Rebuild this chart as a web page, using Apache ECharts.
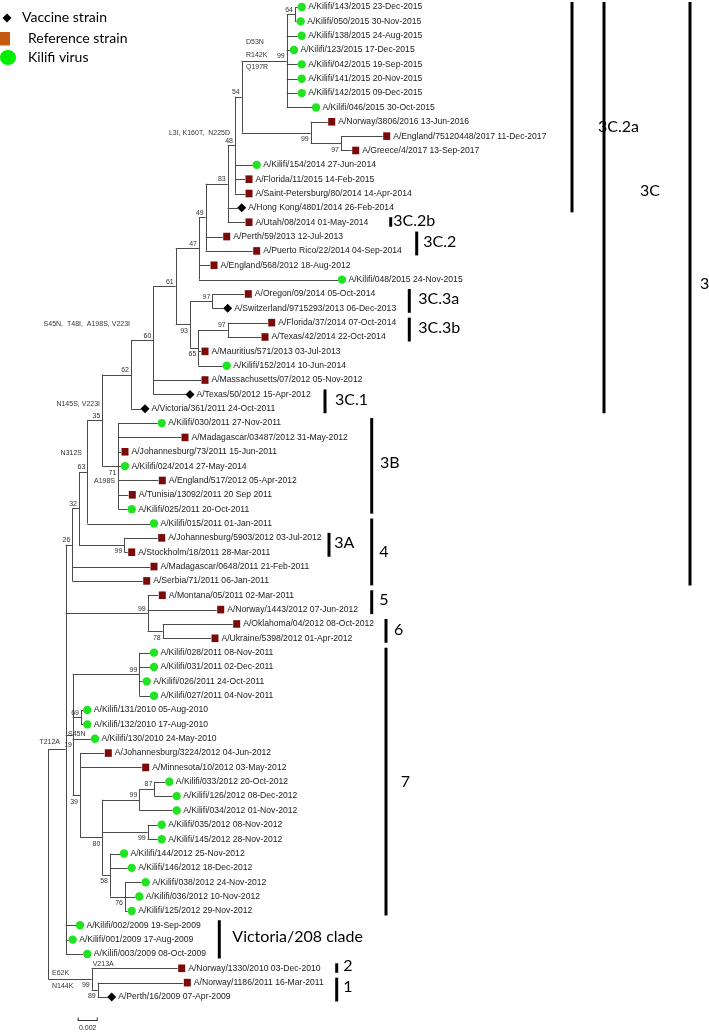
<!DOCTYPE html>
<html><head><meta charset="utf-8">
<script src="https://cdn.jsdelivr.net/npm/echarts@6/dist/echarts.min.js"></script>
<style>html,body{margin:0;padding:0;background:#fff}#c{width:709px;height:1032px}</style>
</head><body><div id="c"></div>
<script>
// ---------------- DATA ----------------
// internal nodes: [id, parent, branch length (subst./site), bootstrap]
const nodes = [
  ['root', null, 0, null],
  ['n19', 'root', 0.00174, 19],
  ['n26', 'n19', 0.00066, 26],
  ['n32', 'n26', 0.00067, 32],
  ['n63', 'n32', 0.00083, 63],
  ['n35', 'n63', 0.0015, 35],
  ['n62', 'n35', 0.00287, 62],
  ['n60', 'n62', 0.00223, 60],
  ['n61', 'n60', 0.00224, 61],
  ['n47', 'n61', 0.00233, 47],
  ['n49', 'n47', 0.00067, 49],
  ['n83', 'n49', 0.0022, 83],
  ['n48', 'n83', 0.00073, 48],
  ['n54', 'n48', 0.00067, 54],
  ['n99a', 'n54', 0.0045, 99],
  ['n64', 'n99a', 0.00083, 64],
  ['n99b', 'n54', 0.0069, 99],
  ['n97a', 'n99b', 0.00303, 97],
  ['n93', 'n61', 0.00143, 93],
  ['n97b', 'n93', 0.00223, 97],
  ['n65', 'n93', 0.00083, 65],
  ['n97c', 'n65', 0.00294, 97],
  ['n71', 'n35', 0.0016, 71],
  ['n99c', 'n32', 0.00453, 99],
  ['n99d', 'n19', 0.0082, 99],
  ['n78', 'n99d', 0.0015, 78],
  ['nS', 'n19', 0.0007, null],
  ['n99e', 'nS', 0.00666, 99],
  ['n69', 'nS', 0.00083, 69],
  ['n39', 'nS', 0.00073, 39],
  ['n80', 'n39', 0.00223, 80],
  ['n99f', 'n80', 0.0037, 99],
  ['n87', 'n99f', 0.0015, 87],
  ['n99g', 'n80', 0.00454, 99],
  ['n58', 'n80', 0.00077, 58],
  ['n76', 'n58', 0.0015, 76],
  ['n99h', 'root', 0.00434, 99],
  ['n89', 'n99h', 0.0006, 89]
];
// strains (top to bottom): [name, date, type (V vaccine, R reference, K Kilifi), parent, branch length]
const strains = [
  ['A/Kilifi/143/2015','23-Dec-2015','K','n64',0.00027],
  ['A/Kilifi/050/2015','30-Nov-2015','K','n64',0.00017],
  ['A/Kilifi/138/2015','24-Aug-2015','K','n99a',0.0011],
  ['A/Kilifi/123/2015','17-Dec-2015','K','n99a',0.00033],
  ['A/Kilifi/042/2015','19-Sep-2015','K','n99a',0.0011],
  ['A/Kilifi/141/2015','20-Nov-2015','K','n99a',0.0011],
  ['A/Kilifi/142/2015','09-Dec-2015','K','n99a',0.0011],
  ['A/Kilifi/046/2015','30-Oct-2015','K','n99a',0.00253],
  ['A/Norway/3806/2016','13-Jun-2016','R','n99b',0.0017],
  ['A/England/75120448/2017','11-Dec-2017','R','n97a',0.00417],
  ['A/Greece/4/2017','13-Sep-2017','R','n97a',0.00107],
  ['A/Kilifi/154/2014','27-Jun-2014','K','n48',0.00177],
  ['A/Florida/11/2015','14-Feb-2015','R','n48',0.001],
  ['A/Saint-Petersburg/80/2014','14-Apr-2014','R','n48',0.001],
  ['A/Hong Kong/4801/2014','26-Feb-2014','V','n83',0.001],
  ['A/Utah/08/2014','01-May-2014','R','n83',0.00173],
  ['A/Perth/59/2013','12-Jul-2013','R','n49',0.0017],
  ['A/Puerto Rico/22/2014','04-Sep-2014','R','n49',0.0047],
  ['A/England/568/2012','18-Aug-2012','R','n47',0.0011],
  ['A/Kilifi/048/2015','24-Nov-2015','K','n47',0.0139],
  ['A/Oregon/09/2014','05-Oct-2014','R','n97b',0.0032],
  ['A/Switzerland/9715293/2013','06-Dec-2013','V','n97b',0.00114],
  ['A/Florida/37/2014','07-Oct-2014','R','n97c',0.004],
  ['A/Texas/42/2014','22-Oct-2014','R','n97c',0.00333],
  ['A/Mauritius/571/2013','03-Jul-2013','R','n65',0.00027],
  ['A/Kilifi/152/2014','10-Jun-2014','K','n65',0.00244],
  ['A/Massachusetts/07/2012','05-Nov-2012','R','n60',0.00477],
  ['A/Texas/50/2012','15-Apr-2012','V','n60',0.00327],
  ['A/Victoria/361/2011','24-Oct-2011','V','n62',0.001],
  ['A/Kilifi/030/2011','27-Nov-2011','K','n71',0.00394],
  ['A/Madagascar/03487/2012','31-May-2012','R','n71',0.00627],
  ['A/Johannesburg/73/2011','15-Jun-2011','R','n71',0.00027],
  ['A/Kilifi/024/2014','27-May-2014','K','n71',0.00027],
  ['A/England/517/2012','05-Apr-2012','R','n71',0.004],
  ['A/Tunisia/13092/2011','20 Sep 2011','R','n71',0.001],
  ['A/Kilifi/025/2011','20-Oct-2011','K','n71',0.00094],
  ['A/Kilifi/015/2011','01-Jan-2011','K','n63',0.00627],
  ['A/Johannesburg/5903/2012','03-Jul-2012','R','n99c',0.00334],
  ['A/Stockholm/18/2011','28-Mar-2011','R','n99c',0.00034],
  ['A/Madagascar/0648/2011','21-Feb-2011','R','n26',0.00777],
  ['A/Serbia/71/2011','06-Jan-2011','R','n26',0.00704],
  ['A/Montana/05/2011','02-Mar-2011','R','n99d',0.00106],
  ['A/Norway/1443/2012','07-Jun-2012','R','n99d',0.0069],
  ['A/Oklahoma/04/2012','08-Oct-2012','R','n78',0.007],
  ['A/Ukraine/5398/2012','01-Apr-2012','R','n78',0.00483],
  ['A/Kilifi/028/2011','08-Nov-2011','K','n99e',0.00107],
  ['A/Kilifi/031/2011','02-Dec-2011','K','n99e',0.00107],
  ['A/Kilifi/026/2011','24-Oct-2011','K','n99e',0.00034],
  ['A/Kilifi/027/2011','04-Nov-2011','K','n99e',0.00107],
  ['A/Kilifi/131/2010','05-Aug-2010','K','n69',0.00023],
  ['A/Kilifi/132/2010','17-Aug-2010','K','n69',0.00023],
  ['A/Kilifi/130/2010','24-May-2010','K','nS',0.00183],
  ['A/Johannesburg/3224/2012','04-Jun-2012','R','n39',0.00243],
  ['A/Minnesota/10/2012','03-May-2012','R','n39',0.00617],
  ['A/Kilifi/033/2012','20-Oct-2012','K','n87',0.0011],
  ['A/Kilifi/126/2012','08-Dec-2012','K','n87',0.00184],
  ['A/Kilifi/034/2012','01-Nov-2012','K','n99f',0.00334],
  ['A/Kilifi/035/2012','08-Nov-2012','K','n99g',0.001],
  ['A/Kilifi/145/2012','28-Nov-2012','K','n99g',0.001],
  ['A/Kilifi/144/2012','25-Nov-2012','K','n58',0.001],
  ['A/Kilifi/146/2012','18-Dec-2012','K','n58',0.00177],
  ['A/Kilifi/038/2012','24-Nov-2012','K','n76',0.00167],
  ['A/Kilifi/036/2012','10-Nov-2012','K','n76',0.00103],
  ['A/Kilifi/125/2012','29-Nov-2012','K','n76',0.00027],
  ['A/Kilifi/002/2009','19-Sep-2009','K','n19',0.00103],
  ['A/Kilifi/001/2009','17-Aug-2009','K','n19',0.0003],
  ['A/Kilifi/003/2009','08-Oct-2009','K','n19',0.00176],
  ['A/Norway/1330/2010','03-Dec-2010','R','n99h',0.0086],
  ['A/Norway/1186/2011','16-Mar-2011','R','n89',0.00856],
  ['A/Perth/16/2009','07-Apr-2009','V','n89',0.001]
];
// amino-acid substitutions marked on branches: [node, text]
const mutations = [
  ['n99a','D53N\nR142K\nQ197R'],
  ['n48','L3I, K160T,  N225D'],
  ['n60','S45N,  T48I,  A198S, V223I'],
  ['n35','N145S, V223I'],
  ['n63','N312S'],
  ['n71','A198S'],
  ['n19','T212A'],
  ['nS','S45N'],
  ['n99h','E62K'],
  ['n99h','N144K'],
  ['n99h','V213A']
];
// clades: name, first strain index, last strain index
const cladeNames = ['3C.2a','3C.2b','3C.2','3C.3a','3C.3b','3C.1','3C','3','3B','3A','4','5','6','7','Victoria/208 clade','2','1'];
const cladeFirst = [0,15,16,20,22,27,0,0,29,37,36,41,43,45,64,67,68];
const cladeLast  = [14,15,17,21,23,28,28,40,35,38,40,42,44,63,66,67,69];
const legendNames = ['Vaccine strain','Reference strain','Kilifi virus'];
const scaleBarLength = 0.002;

// ---------------- LAYOUT / STYLE ----------------
const supportBelow = ['n99b','n97a','n93','n65','n71','n99c','n78','n39','n80','n99g','n58','n76','n99h','n89'];
const supportDx = {n19: 6.3};
const mutationLayout = [ // dx, dy (px from node), align
  [-40.7,-6.2,'left'],[-5,-12,'right'],[-23.3,-16.5,'right'],[-2.3,-16,'right'],
  [-5.3,-19,'right'],[-3.3,14.7,'right'],[-5.7,-7.3,'right'],[-4.7,-1,'left'],
  [-39.7,-6.3,'left'],[-39.7,7,'left'],[1,-15,'left']
];
const cladeBarX = [572,390.7,416.7,409.3,409.3,325,604,690,371.7,329,371.7,371.7,386,386,219.3,336.7,336.7];
const cladeLabelGap = [26,2.6,6.6,9,9,10,36,10,8.3,5.3,7.6,7.6,8,14.7,13,6.6,6.6];
const cladeLabelDy = [20,-1.5,-1.5,-2,-1.5,-1.5,-17,-10,-3.5,-1.5,0,-2,-1.5,0,-3,-2,-3];
const COLORS = {K:'#1fe41f', R:'#7b0b0b', V:'#000000', legendR:'#c55a11', branch:'#4a4a4a', text:'#1a1a1a'};
const LABEL_FONT = 'Liberation Sans, Arial, sans-serif';
const CLADE_FONT = 'Lato, Open Sans, sans-serif';

// ---------------- TREE LAYOUT ----------------
const map = {};
nodes.forEach(([id, parent, bl, bs]) => { map[id] = {id, parent, bl, bs, children: [], leaf: false}; });
strains.forEach((s, i) => { map['leaf' + i] = {id: 'leaf' + i, parent: s[3], bl: s[4], children: [], leaf: true, index: i}; });
Object.values(map).forEach(n => { if (n.parent) map[n.parent].children.push(n); });
function depthOf(n) { if (n.x === undefined) n.x = n.parent ? depthOf(map[n.parent]) + n.bl : 0; return n.x; }
function rowOf(n) {
  if (n.y === undefined) {
    if (n.leaf) n.y = n.index;
    else { const ys = n.children.map(rowOf); n.y = (Math.min(...ys) + Math.max(...ys)) / 2; }
  }
  return n.y;
}
Object.values(map).forEach(n => { depthOf(n); rowOf(n); });

const segments = [];
Object.values(map).forEach(n => {
  if (n.parent) segments.push([map[n.parent].x, n.y, n.x, n.y]);
  if (!n.leaf) {
    const ys = n.children.map(c => c.y);
    segments.push([n.x, Math.min(...ys), n.x, Math.max(...ys)]);
  }
});
const tipData = strains.map((s, i) => [map['leaf' + i].x, map['leaf' + i].y, i]);
const supportData = nodes.map((nd, i) => [map[nd[0]].x, map[nd[0]].y, i]).filter(d => nodes[d[2]][3] != null);
const mutationData = mutations.map((m, i) => [map[m[0]].x, map[m[0]].y, i]);
const cladeData = cladeNames.map((c, i) => [0, cladeFirst[i], cladeLast[i], i]);

// ---------------- CHART ----------------
const chart = echarts.init(document.getElementById('c'));
const crisp = v => Math.round(v) + 0.5;

chart.setOption({
  animation: false,
  backgroundColor: '#ffffff',
  grid: {left: 0, right: 0, top: 0, bottom: 0},
  xAxis: {type: 'value', min: -0.00483, max: 0.06607, show: false},
  yAxis: {type: 'value', inverse: true, min: -0.488, max: 71.44, show: false},
  series: [
    {
      type: 'custom', name: 'branches', coordinateSystem: 'cartesian2d', clip: false,
      data: segments, encode: {x: [0, 2], y: [1, 3]},
      renderItem(params, api) {
        const p1 = api.coord([api.value(0), api.value(1)]);
        const p2 = api.coord([api.value(2), api.value(3)]);
        let x1 = p1[0], y1 = p1[1], x2 = p2[0], y2 = p2[1];
        if (Math.abs(x1 - x2) < 0.01) { x1 = x2 = crisp(x1); } else { y1 = y2 = crisp(y1); }
        return {type: 'line', shape: {x1, y1, x2, y2}, style: {stroke: COLORS.branch, lineWidth: 1}};
      }
    },
    {
      type: 'custom', name: 'tips', coordinateSystem: 'cartesian2d', clip: false,
      data: tipData, encode: {x: 0, y: 1},
      renderItem(params, api) {
        const i = api.value(2);
        const p = api.coord([api.value(0), api.value(1)]);
        const type = strains[i][2];
        const cx = p[0] + 4, cy = p[1];
        let marker;
        if (type === 'K') marker = {type: 'circle', shape: {cx, cy, r: 4.2}, style: {fill: COLORS.K}};
        else if (type === 'R') marker = {type: 'rect', shape: {x: cx - 3.5, y: cy - 3.8, width: 7, height: 7.6}, style: {fill: COLORS.R}};
        else marker = {type: 'polygon', shape: {points: [[cx, cy - 4.5], [cx + 4.5, cy], [cx, cy + 4.5], [cx - 4.5, cy]]}, style: {fill: COLORS.V}};
        const label = {type: 'text', x: cx + 6.5, y: cy, style: {text: strains[i][0] + ' ' + strains[i][1], fontSize: 8.6, fontFamily: LABEL_FONT, fill: COLORS.text, align: 'left', verticalAlign: 'middle'}};
        return {type: 'group', children: [marker, label]};
      }
    },
    {
      type: 'custom', name: 'support', coordinateSystem: 'cartesian2d', clip: false,
      data: supportData, encode: {x: 0, y: 1},
      renderItem(params, api) {
        const nd = nodes[api.value(2)];
        const p = api.coord([api.value(0), api.value(1)]);
        const below = supportBelow.includes(nd[0]);
        const dx = supportDx[nd[0]] !== undefined ? supportDx[nd[0]] : -2;
        return {type: 'text', x: p[0] + dx, y: below ? p[1] + 3 : p[1] - 1,
          style: {text: String(nd[3]), fontSize: 7, fontFamily: LABEL_FONT, fill: '#333', align: 'right', verticalAlign: below ? 'top' : 'bottom'}};
      }
    },
    {
      type: 'custom', name: 'mutations', coordinateSystem: 'cartesian2d', clip: false,
      data: mutationData, encode: {x: 0, y: 1},
      renderItem(params, api) {
        const i = api.value(2);
        const p = api.coord([api.value(0), api.value(1)]);
        const L = mutationLayout[i];
        return {type: 'text', x: p[0] + L[0], y: p[1] + L[1],
          style: {text: mutations[i][1], fontSize: 7, lineHeight: 12.5, fontFamily: LABEL_FONT, fill: '#333', align: L[2], verticalAlign: 'middle'}};
      }
    },
    {
      type: 'custom', name: 'clades', coordinateSystem: 'cartesian2d', clip: false,
      data: cladeData, encode: {y: [1, 2]},
      renderItem(params, api) {
        const i = api.value(3);
        const top = api.coord([0, api.value(1)])[1] - 5;
        const bottom = api.coord([0, api.value(2)])[1] + 4.5;
        const x = cladeBarX[i];
        return {type: 'group', children: [
          {type: 'line', shape: {x1: x, y1: top, x2: x, y2: bottom}, style: {stroke: '#000', lineWidth: 3}},
          {type: 'text', x: x + cladeLabelGap[i], y: (top + bottom) / 2 + cladeLabelDy[i],
            style: {text: cladeNames[i], fontSize: 16, fontFamily: CLADE_FONT, fill: '#000', align: 'left', verticalAlign: 'middle'}}
        ]};
      }
    }
  ]
});

// legend + scale bar (graphic)
const x0 = chart.convertToPixel({xAxisIndex: 0}, 0);
const x1 = chart.convertToPixel({xAxisIndex: 0}, scaleBarLength);
const barLen = x1 - x0;
const sbLeft = 77.7, sbY = 1020.5;
chart.setOption({
  graphic: [
    {type: 'polygon', shape: {points: [[7, 13.5], [11.5, 18], [7, 22.5], [2.5, 18]]}, style: {fill: '#000'}},
    {type: 'text', x: 22, y: 17, style: {text: legendNames[0], fontSize: 14, fontFamily: CLADE_FONT, fill: '#000', verticalAlign: 'middle'}},
    {type: 'rect', shape: {x: 0, y: 32, width: 10, height: 13.5}, style: {fill: COLORS.legendR}},
    {type: 'text', x: 28, y: 38, style: {text: legendNames[1], fontSize: 14, fontFamily: CLADE_FONT, fill: '#000', verticalAlign: 'middle'}},
    {type: 'ellipse', shape: {cx: 8, cy: 57.5, rx: 8, ry: 7.5}, style: {fill: '#00ee00'}},
    {type: 'text', x: 28, y: 57, style: {text: legendNames[2], fontSize: 14, fontFamily: CLADE_FONT, fill: '#000', verticalAlign: 'middle'}},
    {type: 'line', shape: {x1: sbLeft, y1: sbY, x2: sbLeft + barLen, y2: sbY}, style: {stroke: '#333', lineWidth: 1}},
    {type: 'line', shape: {x1: sbLeft + 0.5, y1: sbY - 3, x2: sbLeft + 0.5, y2: sbY}, style: {stroke: '#333', lineWidth: 1}},
    {type: 'line', shape: {x1: sbLeft + barLen - 0.5, y1: sbY - 3, x2: sbLeft + barLen - 0.5, y2: sbY}, style: {stroke: '#333', lineWidth: 1}},
    {type: 'text', x: sbLeft + barLen / 2, y: 1028, style: {text: String(scaleBarLength), fontSize: 7, fontFamily: LABEL_FONT, fill: '#333', align: 'center', verticalAlign: 'middle'}}
  ]
});
</script>
</body></html>
